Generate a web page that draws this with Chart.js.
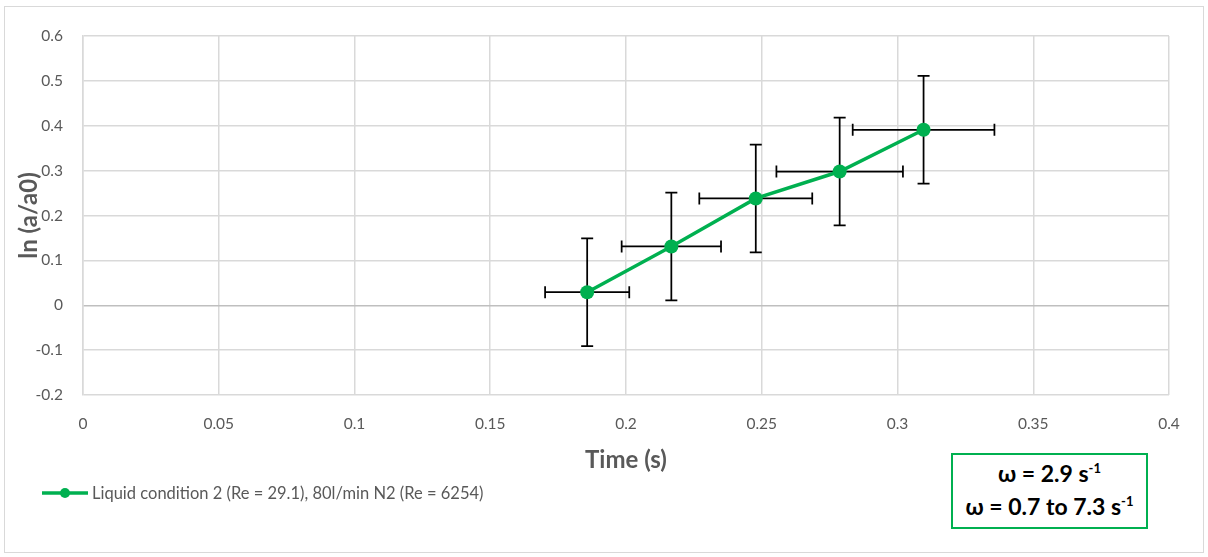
<!DOCTYPE html>
<html>
<head>
<meta charset="utf-8">
<script src="https://cdn.jsdelivr.net/npm/chart.js@4.4.1/dist/chart.umd.min.js"></script>
<style>
  html, body { margin: 0; padding: 0; background: #fff; }
  #wrap { position: relative; width: 1208px; height: 557px; }
  #omega {
    position: absolute; left: 951px; top: 453px; width: 193px; height: 70px;
    border: 2px solid #00b050; background: #fff;
    font-family: Lato, "Open Sans", sans-serif; font-weight: bold; font-size: 23px;
    color: #000; text-align: center; line-height: 33px; padding-top: 2px; box-sizing: content-box;
  }
  #omega sup { font-size: 13px; line-height: 0; vertical-align: 9px; }
</style>
</head>
<body>
<div id="wrap">
  <canvas id="lnChart" width="1208" height="557"></canvas>
  <div id="omega">ω = 2.9 s<sup>-1</sup><br>ω = 0.7 to 7.3 s<sup>-1</sup></div>
</div>
<script>
const seriesLabel = 'Liquid condition 2 (Re = 29.1), 80l/min N2 (Re = 6254)';
const timeValues = [0.1857, 0.2167, 0.2478, 0.2787, 0.3096];
const lnValues = [0.029, 0.131, 0.238, 0.298, 0.391];
const timeErrors = [0.0155, 0.0183, 0.0208, 0.0233, 0.0261];
const lnErrors = [0.12, 0.12, 0.12, 0.12, 0.12];
const xTicks = [0, 0.05, 0.1, 0.15, 0.2, 0.25, 0.3, 0.35, 0.4];
const yTicks = [-0.2, -0.1, 0, 0.1, 0.2, 0.3, 0.4, 0.5, 0.6];

const green = '#00b050';
const fontFamily = 'Lato, "Open Sans", sans-serif';

// error bars, legend and outer frame
const extras = {
    id: 'extras',
    beforeDraw(chart) {
        const c = chart.ctx;
        c.save();
        c.strokeStyle = '#d9d9d9';
        c.lineWidth = 1;
        c.strokeRect(4.5, 6.5, 1199, 546);
        c.restore();
    },
    beforeDatasetsDraw(chart) {
        const c = chart.ctx;
        const xs = chart.scales.x, ys = chart.scales.y;
        c.save();
        c.strokeStyle = '#000';
        c.lineWidth = 1.75;
        timeValues.forEach((t, i) => {
            const px = xs.getPixelForValue(t);
            const py = ys.getPixelForValue(lnValues[i]);
            const x1 = xs.getPixelForValue(t - timeErrors[i]);
            const x2 = xs.getPixelForValue(t + timeErrors[i]);
            const y1 = ys.getPixelForValue(lnValues[i] + lnErrors[i]);
            const y2 = ys.getPixelForValue(lnValues[i] - lnErrors[i]);
            c.beginPath();
            c.moveTo(x1, py); c.lineTo(x2, py);
            c.moveTo(x1, py - 6); c.lineTo(x1, py + 6);
            c.moveTo(x2, py - 6); c.lineTo(x2, py + 6);
            c.moveTo(px, y1); c.lineTo(px, y2);
            c.moveTo(px - 6, y1); c.lineTo(px + 6, y1);
            c.moveTo(px - 6, y2); c.lineTo(px + 6, y2);
            c.stroke();
        });
        c.restore();
    },
    afterDraw(chart) {
        const c = chart.ctx;
        c.save();
        c.strokeStyle = green;
        c.lineWidth = 3.5;
        c.beginPath();
        c.moveTo(42, 493); c.lineTo(88, 493);
        c.stroke();
        c.fillStyle = green;
        c.beginPath();
        c.arc(65, 493, 5, 0, Math.PI * 2);
        c.fill();
        c.fillStyle = '#595959';
        c.font = '16.5px ' + fontFamily;
        c.textBaseline = 'middle';
        c.fillText(chart.data.datasets[0].label, 92, 494);
        c.restore();
    }
};

const ctx = document.getElementById('lnChart').getContext('2d');
new Chart(ctx, {
    type: 'scatter',
    data: {
        datasets: [{
            label: seriesLabel,
            data: timeValues.map((t, i) => ({ x: t, y: lnValues[i] })),
            showLine: true,
            borderColor: green,
            backgroundColor: green,
            borderWidth: 3.5,
            pointRadius: 7,
            pointBorderWidth: 0,
            pointBackgroundColor: green
        }]
    },
    options: {
        responsive: false,
        animation: false,
        layout: { padding: { left: 0, right: 39, top: 36, bottom: 0 } },
        plugins: {
            legend: { display: false },
            tooltip: { enabled: false }
        },
        scales: {
            x: {
                type: 'linear',
                min: 0,
                max: 0.4,
                afterBuildTicks: s => { s.ticks = xTicks.map(v => ({ value: v })); },
                afterFit: s => { s.height = 162; },
                grid: { color: '#d9d9d9', lineWidth: 1.5, drawTicks: false },
                border: { display: false },
                ticks: {
                    padding: 20,
                    color: '#595959',
                    font: { family: fontFamily, size: 15.5 },
                    callback: v => String(+v.toFixed(2))
                },
                title: {
                    display: true,
                    text: 'Time (s)',
                    color: '#595959',
                    font: { family: fontFamily, size: 24, weight: 'bold' },
                    padding: { top: 82, bottom: 82 }
                }
            },
            y: {
                type: 'linear',
                min: -0.2,
                max: 0.6,
                afterBuildTicks: s => { s.ticks = yTicks.map(v => ({ value: v })); },
                afterFit: s => { s.width = 83; },
                grid: {
                    color: c => (c.tick && c.tick.value === 0) ? '#bfbfbf' : '#d9d9d9',
                    lineWidth: 1.5,
                    drawTicks: false
                },
                border: { display: true, color: '#d9d9d9', width: 1.5 },
                ticks: {
                    padding: 20,
                    color: '#595959',
                    font: { family: fontFamily, size: 15.5 },
                    callback: v => String(+v.toFixed(1))
                },
                title: {
                    display: true,
                    text: 'ln (a/a0)',
                    color: '#595959',
                    font: { family: fontFamily, size: 24, weight: 'bold' },
                    padding: { top: 15, bottom: 15 }
                }
            }
        }
    },
    plugins: [extras]
});
</script>
</body>
</html>
